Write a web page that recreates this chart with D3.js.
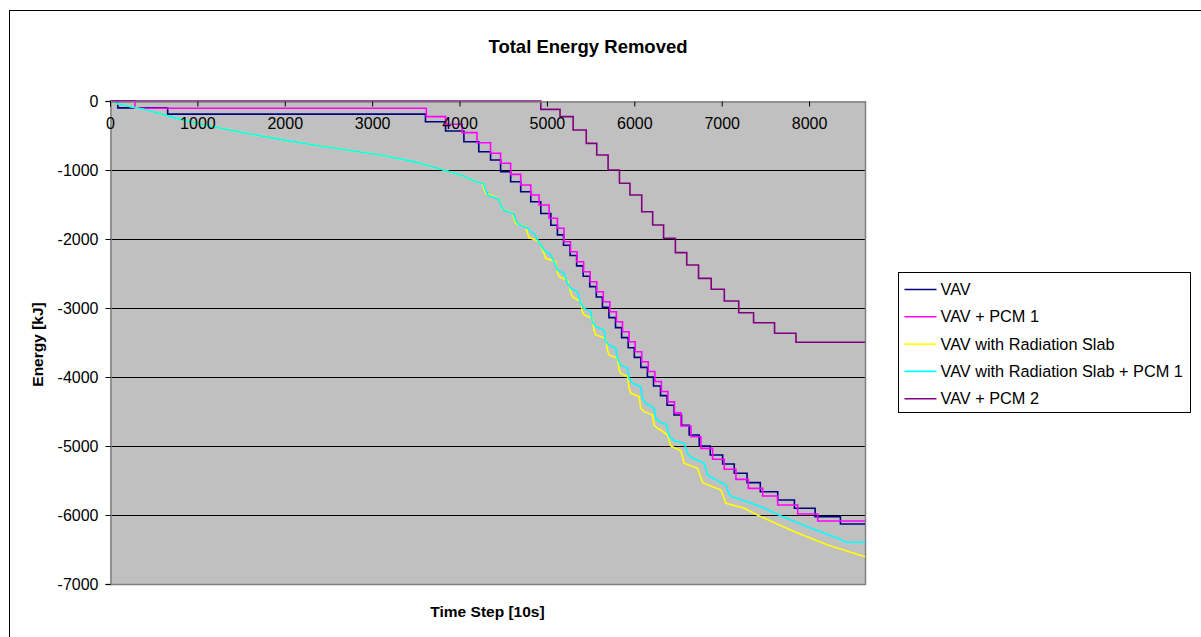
<!DOCTYPE html>
<html>
<head>
<meta charset="utf-8">
<script src="https://cdnjs.cloudflare.com/ajax/libs/d3/7.8.5/d3.min.js"></script>
<style>
  html, body { margin: 0; padding: 0; background: #fff; }
  svg { display: block; font-family: "Liberation Sans", Arial, sans-serif; }
</style>
</head>
<body>
<svg id="chart" width="1201" height="637"></svg>
<script>
// Axis ticks
const xTicks = [0, 1000, 2000, 3000, 4000, 5000, 6000, 7000, 8000];
const yTicks = [0, -1000, -2000, -3000, -4000, -5000, -6000, -7000];
const xMax = 8640;

const seriesNames = [
  "VAV",
  "VAV + PCM 1",
  "VAV with Radiation Slab",
  "VAV with Radiation Slab + PCM 1",
  "VAV + PCM 2"
];
const seriesColors = ["#000080", "#FF00FF", "#FFFF00", "#00FFFF", "#800080"];

// Cumulative energy [kJ] vs. time step; step series list (time, level after drop)
const vav = [
  [0,0],[90,-100],[660,-190],[3610,-300],[3840,-435],[4050,-590],[4220,-735],[4355,-855],
  [4470,-1025],[4585,-1170],[4700,-1315],[4815,-1460],[4930,-1630],[5045,-1800],[5120,-1940],
  [5190,-2090],[5265,-2240],[5340,-2390],[5415,-2540],[5490,-2690],[5565,-2840],[5635,-2990],
  [5710,-3140],[5785,-3285],[5855,-3430],[5930,-3575],[6000,-3715],[6075,-3860],[6150,-4000],
  [6220,-4130],[6300,-4270],[6375,-4410],[6455,-4550],[6540,-4700],[6628,-4840],[6743,-5000],
  [6869,-5130],[7011,-5260],[7144,-5396],[7290,-5531],[7442,-5662],[7641,-5783],[7832,-5903],
  [8069,-6024],[8359,-6130],[8640,-6130]
];

const vavPcm1 = [
  [0,0],[285,-105],[3620,-227],[3840,-338],[4030,-459],[4200,-604],[4355,-758],[4470,-903],
  [4585,-1063],[4700,-1217],[4815,-1362],[4910,-1507],[5025,-1700],[5120,-1845],[5195,-2040],
  [5270,-2185],[5345,-2330],[5420,-2475],[5495,-2620],[5570,-2765],[5645,-2910],[5720,-3055],
  [5795,-3200],[5865,-3345],[5940,-3490],[6010,-3635],[6085,-3780],[6160,-3920],[6235,-4065],
  [6310,-4210],[6385,-4360],[6460,-4520],[6533,-4710],[6648,-4865],[6762,-5034],[6896,-5193],
  [7029,-5338],[7163,-5483],[7305,-5614],[7469,-5725],[7641,-5855],[7870,-5986],[8099,-6087],
  [8640,-6087]
];

// Radiation slab cases: sampled curve points (time, energy)
const slab = [
  [0,0],[115,-50],[420,-130],[802,-266],[1184,-372],[1566,-469],[1948,-556],[2330,-638],
  [2713,-710],[3095,-783],[3477,-879],[3820,-1000],[4050,-1090],[4203,-1179],[4260,-1193],
  [4298,-1338],[4451,-1411],[4489,-1556],[4604,-1628],[4642,-1773],[4756,-1821],[4795,-1980],
  [4871,-2014],[4909,-2039],[4967,-2208],[4986,-2280],[5100,-2329],[5119,-2474],[5138,-2546],
  [5234,-2594],[5272,-2763],[5291,-2836],[5387,-2908],[5406,-3053],[5425,-3101],[5520,-3150],
  [5539,-3319],[5559,-3391],[5673,-3440],[5692,-3609],[5711,-3681],[5807,-3729],[5826,-3899],
  [5845,-3947],[5922,-3995],[5941,-4164],[5960,-4237],[6055,-4285],[6074,-4454],[6112,-4502],
  [6208,-4551],[6227,-4696],[6265,-4744],[6304,-4768],[6380,-4841],[6418,-5000],[6533,-5068],
  [6571,-5251],[6724,-5324],[6782,-5531],[6991,-5638],[7049,-5831],[7259,-5903],[7431,-6014],
  [7832,-6242],[8214,-6435],[8640,-6604]
];

const slabPcm1 = [
  [0,0],[115,-50],[420,-130],[802,-266],[1184,-372],[1566,-469],[1948,-556],[2330,-638],
  [2713,-710],[3095,-783],[3477,-879],[3820,-1000],[4050,-1090],[4203,-1179],[4275,-1200],
  [4300,-1300],[4330,-1370],[4450,-1420],[4480,-1530],[4510,-1580],[4620,-1640],[4650,-1750],
  [4680,-1790],[4790,-1850],[4814,-1894],[4852,-1918],[4928,-2087],[4967,-2159],[5043,-2232],
  [5100,-2377],[5119,-2449],[5196,-2498],[5234,-2642],[5272,-2715],[5349,-2763],[5387,-2932],
  [5425,-3005],[5501,-3053],[5520,-3198],[5559,-3271],[5654,-3319],[5673,-3488],[5711,-3536],
  [5788,-3585],[5807,-3729],[5845,-3826],[5922,-3874],[5941,-4019],[5979,-4092],[6074,-4140],
  [6094,-4309],[6132,-4382],[6227,-4454],[6246,-4599],[6284,-4648],[6370,-4690],[6399,-4860],
  [6456,-4923],[6571,-4961],[6609,-5106],[6648,-5164],[6800,-5251],[6839,-5420],[6877,-5454],
  [7049,-5565],[7087,-5710],[7125,-5734],[7450,-5879],[7679,-6014],[8023,-6193],[8329,-6338],
  [8424,-6396],[8640,-6396]
];

const vavPcm2 = [
  [0,0],[4930,-121],[5150,-227],[5300,-420],[5450,-614],[5570,-783],[5700,-1000],[5830,-1193],
  [5950,-1362],[6085,-1604],[6210,-1797],[6335,-1990],[6470,-2198],[6600,-2377],[6735,-2570],
  [6880,-2729],[7030,-2899],[7195,-3068],[7365,-3213],[7605,-3367],[7850,-3497],[8640,-3497]
];

const seriesData = [vav, vavPcm1, slab, slabPcm1, vavPcm2];
const seriesStep = [true, true, false, false, true];

const svg = d3.select("#chart");

// Outer chart frame
svg.append("rect")
  .attr("x", 9.5).attr("y", 10.5)
  .attr("width", 1250).attr("height", 700)
  .attr("fill", "#fff").attr("stroke", "#000").attr("stroke-width", 1);

const plot = { left: 110, right: 865, top: 101, bottom: 584 };

const x = d3.scaleLinear().domain([0, xMax]).range([plot.left, plot.right]);
const y = d3.scaleLinear().domain([-7000, 0]).range([plot.bottom, plot.top]);

// Plot background
svg.append("rect")
  .attr("x", plot.left).attr("y", plot.top)
  .attr("width", plot.right - plot.left).attr("height", plot.bottom - plot.top)
  .attr("fill", "#C0C0C0");

// Horizontal gridlines
svg.append("g")
  .selectAll("line")
  .data(yTicks.filter(v => v !== 0 && v !== -7000))
  .join("line")
  .attr("x1", plot.left).attr("x2", plot.right)
  .attr("y1", d => Math.round(y(d)) + 0.5).attr("y2", d => Math.round(y(d)) + 0.5)
  .attr("stroke", "#000").attr("stroke-width", 1);

// Plot border (right, bottom)
svg.append("path")
  .attr("d", `M${plot.right + 0.5},${plot.top}V${plot.bottom + 0.5}H${plot.left}`)
  .attr("fill", "none").attr("stroke", "#808080").attr("stroke-width", 1.5);

// Series
seriesData.forEach((data, i) => {
  const line = d3.line()
    .x(d => x(d[0]))
    .y(d => y(d[1]))
    .curve(seriesStep[i] ? d3.curveStepAfter : d3.curveLinear);
  svg.append("path")
    .datum(data)
    .attr("d", line)
    .attr("fill", "none")
    .attr("stroke", seriesColors[i])
    .attr("stroke-width", 1.6)
    .attr("stroke-linejoin", "miter");
});

// Y axis
const yAxis = svg.append("g")
  .attr("transform", `translate(${plot.left + 0.5},0)`)
  .call(d3.axisLeft(y).tickValues(yTicks).tickSize(5).tickPadding(7)
    .tickFormat(d => String(d)));
yAxis.select(".domain").attr("stroke", "#808080").attr("stroke-width", 1.5);
yAxis.selectAll(".tick line").attr("stroke", "#000");
yAxis.selectAll("text").attr("font-size", 16).attr("fill", "#000")
  .attr("font-family", "Liberation Sans, Arial, sans-serif");

// X axis along the zero line, labels sit inside the plot
const xAxis = svg.append("g")
  .attr("transform", `translate(0,${plot.top + 0.5})`)
  .call(d3.axisBottom(x).tickValues(xTicks).tickSize(5).tickSizeOuter(0).tickPadding(11)
    .tickFormat(d => String(d)));
xAxis.select(".domain").attr("stroke", "#808080").attr("stroke-width", 1.5);
xAxis.selectAll(".tick line").attr("stroke", "#000");
xAxis.selectAll("text").attr("font-size", 16).attr("fill", "#000")
  .attr("font-family", "Liberation Sans, Arial, sans-serif");

// Titles
svg.append("text")
  .attr("x", 588).attr("y", 53)
  .attr("text-anchor", "middle")
  .attr("font-size", 18.5).attr("font-weight", "bold")
  .text("Total Energy Removed");

svg.append("text")
  .attr("transform", `translate(43,${(plot.top + plot.bottom) / 2 + 2}) rotate(-90)`)
  .attr("text-anchor", "middle")
  .attr("font-size", 15.5).attr("font-weight", "bold")
  .text("Energy [kJ]");

svg.append("text")
  .attr("x", (plot.left + plot.right) / 2).attr("y", 617)
  .attr("text-anchor", "middle")
  .attr("font-size", 15.5).attr("font-weight", "bold")
  .text("Time Step [10s]");

// Legend
const legend = svg.append("g").attr("transform", "translate(898.5,272.5)");
legend.append("rect")
  .attr("width", 292).attr("height", 140)
  .attr("fill", "#fff").attr("stroke", "#000").attr("stroke-width", 1);
seriesNames.forEach((name, i) => {
  const row = legend.append("g").attr("transform", `translate(0,${17 + i * 27.3})`);
  row.append("line")
    .attr("x1", 6).attr("x2", 38).attr("y1", 0).attr("y2", 0)
    .attr("stroke", seriesColors[i]).attr("stroke-width", 1.6);
  row.append("text")
    .attr("x", 42).attr("y", 5.5)
    .attr("font-size", 16.3)
    .text(name);
});
</script>
</body>
</html>
